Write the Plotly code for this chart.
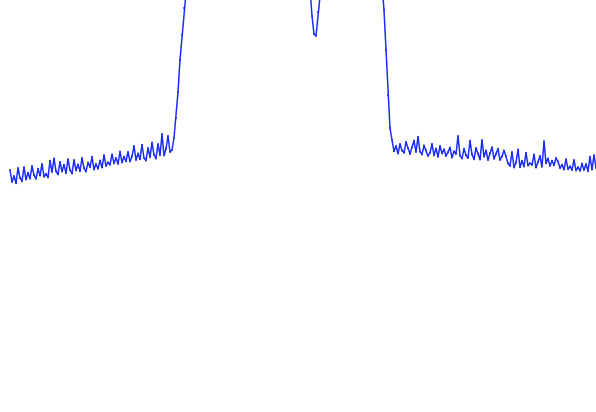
import plotly.graph_objects as go

# Spectrum-like trace: amplitude (dB) per frequency bin, bins evenly spaced
left_noise = [
    -42.5, -45.5, -44.0, -45.8, -42.0, -44.5, -45.3, -41.8, -44.9, -43.2,
    -44.6, -41.5, -43.8, -44.7, -42.2, -43.9, -41.0, -44.2, -43.5, -44.4,
    -40.2, -43.0, -39.6, -42.8, -43.6, -40.5, -42.9, -41.2, -43.3, -39.8,
    -42.5, -43.4, -40.0, -42.6, -41.1, -42.8, -39.5, -42.0, -42.9, -40.6,
    -41.8, -39.2, -42.4, -41.0, -42.2, -40.1, -41.9, -38.8, -41.5, -40.6,
    -41.2, -38.6, -40.8, -39.5, -41.0, -37.9, -40.6, -39.2, -40.3, -38.0,
    -40.4, -39.1, -36.5, -40.0, -38.4, -39.8, -36.2, -39.5, -40.1, -37.0,
    -39.3, -35.6, -38.7, -39.6, -36.0, -38.8, -33.5, -38.9, -37.2, -34.0,
    -38.0, -37.5, -34.5,
]
rise = [-29.5, -23.0, -15.0, -8.8, -2.0]
left_peak = [
    6, 12, 17, 21, 24, 26, 27.5, 28.5, 29, 29.5,
    30, 30.2, 30.5, 30.3, 30.8, 31, 30.6, 31.2, 31, 31.5,
    31.3, 31.8, 31.6, 32, 31.8, 32.2, 32, 32.4, 32.1, 32.5,
    32.3, 32.6, 32.2, 32.4, 32, 31.8, 31.5, 31.2, 30.8, 30.3,
    29.8, 29.2, 28.5, 27.8, 27, 26, 25, 24, 22.5, 21,
    19.5, 18, 16.5, 15, 13.5, 12, 10.5, 9, 7.5, 6.5,
    5.5, 4.5, 3.0,
]
notch = [-4.0, -8.5, -9.0, -3.0]
right_peak = [
    3.0, 8, 13, 17, 20.5, 23, 25, 26.5, 27.5, 28.3,
    29, 29.5, 29.8, 30, 29.8, 29.5, 29, 28.3, 27.5, 26.5,
    25, 23.5, 21.5, 19, 16.5, 14, 11.5, 9, 7, 5.5,
    4.5, 4.0,
]
fall = [-2.5, -12.5, -23.8, -32.0]
right_noise = [
    -35.0, -37.8, -36.5, -38.4, -36.0, -37.6, -38.2, -35.5, -37.0, -38.5,
    -36.8, -35.2, -38.0, -34.2, -37.9, -38.6, -36.4, -37.5, -39.0, -38.2,
    -36.0, -38.8, -37.1, -39.2, -36.5, -38.4, -37.3, -39.0, -38.1, -36.9,
    -39.4, -37.8, -38.5, -34.0, -38.9, -39.6, -37.2, -38.8, -39.5, -35.2,
    -38.6, -39.8, -37.0, -38.4, -39.9, -35.0, -39.2, -37.6, -40.0, -38.3,
    -36.8, -39.7, -38.5, -37.2, -40.0, -39.1, -37.6, -39.0, -40.8, -41.5,
    -38.0, -41.9, -40.6, -37.4, -41.8, -40.2, -41.6, -38.2, -41.4, -40.8,
    -41.2, -38.6, -41.9, -40.5, -39.0, -41.7, -35.3, -40.8, -39.6, -41.5,
    -40.2, -41.3, -39.5, -40.4, -42.0, -41.2, -42.4, -39.8, -42.3, -41.6,
    -42.5, -40.0, -42.6, -41.8, -42.7, -40.9, -42.5, -41.0, -42.8, -39.2,
    -42.4, -38.8, -42.0, -40.5, -42.3,
]

amplitude_db = left_noise + rise + left_peak + notch + right_peak + fall + right_noise
bins = list(range(len(amplitude_db)))

fig = go.Figure(
    go.Scatter(
        x=bins,
        y=amplitude_db,
        mode="lines+markers",
        line=dict(color="#1a2cff", width=1.5),
        marker=dict(color="#1a2cff", size=2),
        hoverinfo="skip",
    )
)
fig.update_layout(
    width=596,
    height=412,
    margin=dict(l=0, r=0, t=0, b=0),
    paper_bgcolor="white",
    plot_bgcolor="white",
    showlegend=False,
    xaxis=dict(visible=False, range=[-5, 293]),
    yaxis=dict(visible=False, range=[-103, 0]),
)
fig.write_html(
    "out.html",
    config={"displayModeBar": False, "staticPlot": True},
    post_script="document.body.style.margin='0';document.body.style.overflow='hidden';",
)
